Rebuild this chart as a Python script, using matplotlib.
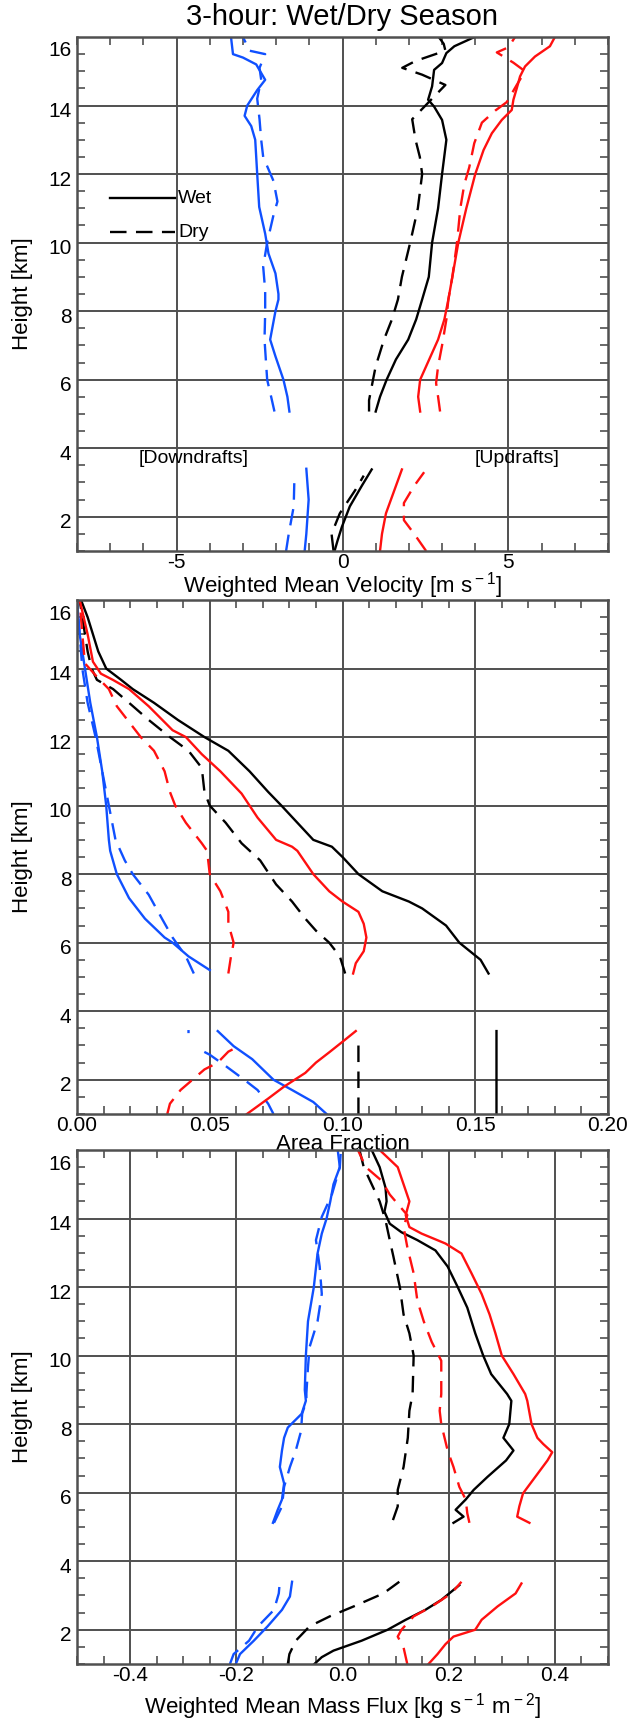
import numpy as np
import matplotlib
matplotlib.use("Agg")
import matplotlib.pyplot as plt
from matplotlib.ticker import MultipleLocator, FixedLocator
from matplotlib.transforms import ScaledTranslation

plt.rcParams['font.family'] = ['Liberation Sans', 'DejaVu Sans']
plt.rcParams['mathtext.fontset'] = 'custom'
plt.rcParams['mathtext.rm'] = 'Liberation Sans'
plt.rcParams['mathtext.default'] = 'regular'

BLUE = '#1050ff'
RED = '#ff1010'
BLACK = '#000000'

# ---- panel 1: weighted mean velocity (m/s) ----
vel_z_blue_wet = [1.0, 1.5, 2.5, 3.4, None, 5.07, 5.5, 6.0, 6.68, 7.17, 8.0, 8.34, 8.5, 9.1, 9.68, 10.26, 11.04, 12.0,
                  13.0, 13.4, 13.7, 14.0, 14.45, 14.75, 15.2, 15.4, 15.5, 16.0]
vel_blue_wet = [-1.14, -1.09, -1.02, -1.09, None, -1.6, -1.66, -1.78, -2.02, -2.18, -2.02, -1.93, -1.93, -2.02, -2.23,
                -2.33, -2.51, -2.57, -2.63, -2.75, -2.95, -2.87, -2.57, -2.33, -2.6, -3.0, -3.3, -3.36]
vel_z_blue_dry = [1.0, 1.5, 2.3, 3.1, None, 5.07, 5.5, 6.0, 7.17, 7.95, 8.6, 9.3, 10.0, 10.8, 11.2, 11.8, 12.5, 13.0,
                  13.6, 14.2, 14.75, 15.1, 15.5, 15.6, 16.0]
vel_blue_dry = [-1.7, -1.62, -1.47, -1.45, None, -2.05, -2.15, -2.27, -2.35, -2.33, -2.33, -2.39, -2.27, -2.08, -1.96,
                -2.08, -2.39, -2.45, -2.5, -2.57, -2.45, -2.5, -2.33, -2.8, -3.0]
vel_z_black_wet = [1.0, 1.3, 1.7, 2.3, 2.9, 3.38, None, 5.07, 5.5, 6.0, 6.59, 7.17, 7.76, 8.34, 9.0, 10.0, 11.0, 12.0,
                   13.0, 13.58, 13.97, 14.17, 14.56, 15.04, 15.24, 15.53, 15.73, 16.0]
vel_black_wet = [-0.24, -0.15, -0.02, 0.22, 0.58, 0.88, None, 1.0, 1.13, 1.33, 1.61, 1.98, 2.22, 2.4, 2.6, 2.7, 2.88,
                 3.0, 3.13, 3.0, 2.76, 2.58, 2.7, 2.76, 3.0, 3.13, 3.37, 3.98]
vel_z_black_dry = [1.0, 1.5, 2.1, 2.8, 3.2, None, 5.07, 5.4, 6.0, 6.39, 7.17, 7.76, 8.34, 9.0, 10.0, 11.0, 12.0, 12.5,
                   13.0, 13.6, 14.0, 14.3, 14.6, 14.9, 15.1, 15.3, 15.6, 15.8, 16.0]
vel_black_dry = [-0.27, -0.33, -0.08, 0.4, 0.64, None, 0.8, 0.8, 0.92, 1.0, 1.25, 1.49, 1.67, 1.79, 2.04, 2.27, 2.4,
                 2.33, 2.2, 2.1, 2.5, 2.8, 3.1, 2.4, 1.8, 2.2, 3.1, 3.05, 2.9]
vel_z_red_wet = [1.0, 1.5, 2.1, 2.9, 3.38, None, 5.07, 5.5, 6.0, 6.39, 7.17, 7.76, 8.34, 9.0, 10.0, 11.0, 12.0, 12.7,
                 13.19, 13.58, 13.87, 14.17, 14.5, 14.85, 15.14, 15.43, 15.73, 16.0]
vel_red_wet = [1.13, 1.19, 1.31, 1.61, 1.79, None, 2.34, 2.28, 2.34, 2.52, 2.88, 3.07, 3.19, 3.31, 3.49, 3.73, 4.0,
               4.25, 4.5, 4.8, 5.1, 5.15, 5.25, 5.35, 5.5, 5.8, 6.25, 6.4]
vel_z_red_dry = [1.0, 1.5, 1.9, 2.4, 2.9, 3.3, None, 5.07, 5.5, 5.9, 6.39, 7.0, 7.76, 8.34, 9.0, 10.0, 11.0, 11.7,
                 12.2, 12.9, 13.5, 13.85, 14.1, 14.6, 15.0, 15.25, 15.4, 15.55, 15.7, 16.0]
vel_red_dry = [2.52, 2.16, 1.85, 1.85, 2.16, 2.46, None, 2.94, 2.88, 2.82, 2.88, 3.0, 3.13, 3.19, 3.31, 3.45, 3.55,
               3.67, 3.82, 3.97, 4.2, 4.6, 4.95, 5.25, 5.5, 5.15, 4.9, 4.65, 5.0, 5.2]

# ---- panel 2: area fraction ----
af_z_blue_wet = [1.0, 1.35, 1.7, 2.0, 2.3, 2.6, 2.98, 3.42, None, 5.2, 5.6, 6.0, 6.15, 6.7, 7.3, 8.0, 8.68, 9.0, 10.0,
                 11.0, 12.0, 13.0, 14.0, 15.0, 16.0]
af_blue_wet = [0.094, 0.089, 0.081, 0.074, 0.070, 0.066, 0.059, 0.053, None, 0.05, 0.042, 0.036, 0.033, 0.0256,
               0.0196, 0.015, 0.0125, 0.012, 0.011, 0.0095, 0.0075, 0.005, 0.003, 0.001, 0.0]
af_z_blue_dry = [1.0, 1.3, 1.7, 2.0, 2.4, 2.73, 2.93, None, 3.36, 3.45, None, 5.1, 5.6, 6.15, 6.7, 7.4, 8.0, 8.4, 9.0,
                 10.0, 11.0, 12.0, 13.0, 14.0, 15.0, 16.0]
af_blue_dry = [0.074, 0.072, 0.068, 0.063, 0.056, 0.05, 0.045, None, 0.042, 0.042, None, 0.044, 0.041, 0.036, 0.032,
               0.027, 0.021, 0.018, 0.0145, 0.012, 0.0095, 0.007, 0.004, 0.002, 0.001, 0.0]
af_z_black_wet = [1.0, 3.42, None, 5.1, 5.5, 6.0, 6.5, 7.0, 7.2, 7.5, 8.0, 8.5, 8.8, 9.0, 9.5, 10.0, 10.4, 11.0, 11.6,
                  12.0, 12.5, 13.0, 13.4, 13.67, 14.0, 14.5, 15.0, 15.5, 16.0]
af_black_wet = [0.158, 0.158, None, 0.155, 0.152, 0.144, 0.139, 0.13, 0.125, 0.115, 0.106, 0.1, 0.096, 0.089, 0.083,
                0.077, 0.072, 0.065, 0.057, 0.048, 0.038, 0.029, 0.021, 0.0166, 0.011, 0.008, 0.006, 0.004, 0.0015]
af_z_black_dry = [1.0, 3.25, None, 5.1, 5.6, 6.0, 6.35, 6.7, 7.2, 7.7, 8.4, 8.9, 9.5, 10.0, 10.4, 11.1, 11.6, 12.0,
                  12.5, 13.0, 13.4, 13.67, 14.0, 14.5, 15.0, 16.0]
af_black_dry = [0.106, 0.106, None, 0.101, 0.099, 0.095, 0.09, 0.086, 0.081, 0.075, 0.069, 0.062, 0.056, 0.05, 0.048,
                0.047, 0.042, 0.035, 0.027, 0.0196, 0.0136, 0.0075, 0.0055, 0.004, 0.003, 0.001]
af_z_red_wet = [1.0, 1.45, 1.8, 2.2, 2.5, 2.8, 3.17, 3.42, None, 5.1, 5.4, 5.75, 6.15, 6.55, 6.9, 7.2, 7.5, 8.0, 8.68,
                8.8, 9.0, 9.65, 10.35, 11.0, 11.5, 12.0, 12.2, 12.9, 13.4, 13.67, 13.85, 14.2, 15.0, 16.0]
af_red_wet = [0.064, 0.072, 0.078, 0.086, 0.09, 0.095, 0.101, 0.105, None, 0.104, 0.105, 0.108, 0.109, 0.108, 0.106,
              0.1, 0.095, 0.089, 0.083, 0.081, 0.075, 0.068, 0.062, 0.054, 0.047, 0.041, 0.036, 0.027, 0.0196, 0.0135,
              0.009, 0.006, 0.004, 0.001]
af_z_red_dry = [1.0, 1.3, 1.7, 1.9, 2.3, 2.5, 2.82, 2.98, None, 5.1, 5.6, 6.0, 6.55, 6.9, 7.5, 8.0, 8.68, 8.9, 9.5,
                10.0, 10.4, 11.0, 11.6, 12.0, 12.4, 12.9, 13.4, 13.76, 14.15, 15.0, 16.0]
af_red_dry = [0.034, 0.035, 0.039, 0.042, 0.048, 0.053, 0.057, 0.061, None, 0.057, 0.058, 0.059, 0.057, 0.057, 0.054,
              0.05, 0.049, 0.047, 0.041, 0.037, 0.035, 0.033, 0.029, 0.024, 0.02, 0.015, 0.012, 0.0075, 0.003, 0.002,
              0.001]

# ---- panel 3: weighted mean mass flux ----
mf_z_blue_wet = [1.0, 1.29, 1.68, 2.1, 2.58, 2.97, 3.4, None, 5.12, 5.5, 5.8, 6.27, 6.75, 7.23, 7.6, 7.9, 8.3, 8.68,
                 9.0, 10.0, 11.0, 12.0, 12.98, 13.56, 14.0, 14.5, 15.0, 15.5, 16.0]
mf_blue_wet = [-0.201, -0.193, -0.167, -0.141, -0.114, -0.099, -0.095, None, -0.131, -0.122, -0.114, -0.11, -0.118,
               -0.114, -0.11, -0.103, -0.077, -0.069, -0.071, -0.069, -0.065, -0.054, -0.047, -0.039, -0.03, -0.023,
               -0.017, -0.005, -0.009]
mf_z_blue_dry = [1.0, 1.29, 1.68, 2.1, 2.58, 3.06, 3.4, None, 5.12, 5.6, 6.17, 6.75, 7.23, 7.8, 8.3, 8.68, 8.9, 9.66,
                 10.25, 11.0, 11.8, 12.6, 13.37, 14.05, 14.7, 15.5, 16.0]
mf_blue_dry = [-0.212, -0.205, -0.176, -0.159, -0.129, -0.12, -0.118, None, -0.129, -0.114, -0.11, -0.099, -0.088,
               -0.078, -0.076, -0.068, -0.068, -0.065, -0.062, -0.047, -0.039, -0.043, -0.05, -0.039, -0.02, -0.005,
               -0.003]
mf_z_black_wet = [1.0, 1.2, 1.39, 1.68, 2.0, 2.29, 2.58, 2.87, 3.3, None, 5.12, 5.3, 5.5, 5.8, 6.08, 6.46, 6.94, 7.23,
                  7.6, 8.0, 8.68, 8.88, 9.46, 10.0, 10.65, 11.4, 12.0, 12.6, 13.07, 13.37, 13.6, 13.85, 14.2, 14.5,
                  14.9, 15.5, 16.0]
mf_black_wet = [-0.053, -0.039, -0.017, 0.036, 0.085, 0.119, 0.156, 0.186, 0.22, None, 0.209, 0.228, 0.213, 0.232,
                0.247, 0.273, 0.308, 0.322, 0.303, 0.314, 0.318, 0.31, 0.28, 0.265, 0.25, 0.235, 0.217, 0.198, 0.175,
                0.141, 0.111, 0.089, 0.079, 0.083, 0.081, 0.07, 0.055]
mf_z_black_dry = [1.0, 1.29, 1.68, 2.1, 2.39, 2.68, 3.06, 3.4, None, 5.2, 5.6, 6.08, 6.75, 7.6, 8.39, 8.88, 10.0,
                  10.65, 11.2, 12.0, 12.88, 13.37, 13.95, 14.5, 15.0, 15.5, 16.0]
mf_black_dry = [-0.103, -0.1, -0.088, -0.062, -0.024, 0.021, 0.077, 0.107, None, 0.095, 0.104, 0.104, 0.115, 0.123,
                0.126, 0.132, 0.134, 0.126, 0.115, 0.108, 0.096, 0.089, 0.081, 0.07, 0.055, 0.04, 0.032]
mf_z_red_wet = [1.0, 1.29, 1.58, 1.8, 2.0, 2.29, 2.68, 3.06, 3.35, None, 5.12, 5.3, 5.6, 5.98, 6.46, 6.94, 7.18, 7.42,
                7.6, 8.0, 8.68, 8.88, 9.46, 10.0, 10.65, 11.2, 11.8, 12.4, 12.98, 13.27, 13.56, 13.75, 14.1, 14.5, 15.0,
                15.5, 16.0]
mf_red_wet = [0.162, 0.179, 0.194, 0.209, 0.25, 0.262, 0.292, 0.326, 0.337, None, 0.352, 0.329, 0.333, 0.34, 0.363,
              0.386, 0.395, 0.378, 0.367, 0.356, 0.348, 0.344, 0.322, 0.3, 0.288, 0.277, 0.262, 0.243, 0.224, 0.194,
              0.149, 0.126, 0.119, 0.126, 0.115, 0.104, 0.07]
mf_z_red_dry = [1.0, 1.48, 1.8, 2.0, 2.39, 2.68, 3.06, 3.4, None, 5.12, 5.4, 5.8, 6.17, 6.75, 7.23, 8.0, 8.39, 8.88,
                9.85, 10.4, 11.0, 11.6, 12.4, 13.17, 13.75, 14.1, 14.3, 14.7, 15.1, 15.5, 16.0]
mf_red_dry = [0.122, 0.115, 0.104, 0.111, 0.134, 0.168, 0.205, 0.224, None, 0.239, 0.235, 0.232, 0.22, 0.209, 0.198,
              0.186, 0.183, 0.186, 0.186, 0.168, 0.153, 0.141, 0.134, 0.122, 0.115, 0.122, 0.111, 0.089, 0.074, 0.044,
              0.029]

panels = [
    dict(xlim=(-8, 8), major=[-5, 0, 5], labels=['-5', '0', '5'], minor=1,
         xlabel=r'Weighted Mean Velocity [m s$^{\rm -1}$]', xlab_off=35,
         series=[(vel_z_blue_wet, vel_blue_wet, BLUE, '-'), (vel_z_blue_dry, vel_blue_dry, BLUE, '--'),
                 (vel_z_black_wet, vel_black_wet, BLACK, '-'), (vel_z_black_dry, vel_black_dry, BLACK, '--'),
                 (vel_z_red_wet, vel_red_wet, RED, '-'), (vel_z_red_dry, vel_red_dry, RED, '--')]),
    dict(xlim=(0, 0.2), major=[0, 0.05, 0.10, 0.15, 0.20], labels=['0.00', '0.05', '0.10', '0.15', '0.20'],
         minor=0.01, xlabel='Area Fraction', xlab_off=31,
         series=[(af_z_blue_wet, af_blue_wet, BLUE, '-'), (af_z_blue_dry, af_blue_dry, BLUE, '--'),
                 (af_z_black_wet, af_black_wet, BLACK, '-'), (af_z_black_dry, af_black_dry, BLACK, '--'),
                 (af_z_red_wet, af_red_wet, RED, '-'), (af_z_red_dry, af_red_dry, RED, '--')]),
    dict(xlim=(-0.5, 0.5), major=[-0.4, -0.2, 0.0, 0.2, 0.4], labels=['-0.4', '-0.2', '0.0', '0.2', '0.4'],
         minor=0.05, xlabel=r'Weighted Mean Mass Flux [kg s$^{\rm -1}$ m$^{\rm -2}$]', xlab_off=43,
         series=[(mf_z_blue_wet, mf_blue_wet, BLUE, '-'), (mf_z_blue_dry, mf_blue_dry, BLUE, '--'),
                 (mf_z_black_wet, mf_black_wet, BLACK, '-'), (mf_z_black_dry, mf_black_dry, BLACK, '--'),
                 (mf_z_red_wet, mf_red_wet, RED, '-'), (mf_z_red_dry, mf_red_dry, RED, '--')]),
]

fig = plt.figure(figsize=(6.28, 17.2), dpi=100)
W, H = 628.0, 1720.0
tops = [37, 600, 1150]
ph = 514
grey = '#505050'
LW = 1.7
DASH = (7, 4)

for p, top in zip(panels, tops):
    ax = fig.add_axes([77 / W, 1 - (top + ph) / H, 531 / W, ph / H])
    for z, v, c, ls in p['series']:
        z = np.array(z, dtype=float)
        v = np.array(v, dtype=float)
        if ls == '--':
            ax.plot(v, z, color=c, lw=LW, ls='--', dashes=DASH)
        else:
            ax.plot(v, z, color=c, lw=LW)
    ax.set_xlim(*p['xlim'])
    ax.set_ylim(1, 16)
    ax.xaxis.set_major_locator(FixedLocator(p['major']))
    ax.set_xticklabels(p['labels'])
    ax.xaxis.set_minor_locator(MultipleLocator(p['minor']))
    ax.yaxis.set_major_locator(FixedLocator([2, 4, 6, 8, 10, 12, 14, 16]))
    ax.yaxis.set_minor_locator(MultipleLocator(0.5))
    ax.grid(True, which='major', color=grey, lw=1.4)
    ax.tick_params(which='both', direction='in', top=True, right=True, labelsize=15, color=grey)
    ax.tick_params(which='major', length=0, pad=1.5)
    ax.tick_params(which='minor', length=6, width=1.2)
    ax.tick_params(axis='y', which='major', pad=4)
    for s in ax.spines.values():
        s.set_color(grey)
        s.set_linewidth(1.8)
    ax.text(0.5, -p['xlab_off'] / ph, p['xlabel'], transform=ax.transAxes, ha='center', va='center', fontsize=16)
    ax.set_ylabel('Height [km]', fontsize=16)
    ax.yaxis.set_label_coords(-44 / 531, 0.5)
    for lab in ax.get_yticklabels():
        dy = -12 if lab.get_text() == '16' else -4
        lab.set_transform(lab.get_transform() + ScaledTranslation(0, dy / 100, fig.dpi_scale_trans))
    p['ax'] = ax

ax1 = panels[0]['ax']
ax1.plot([-7.0, -5.05], [11.3, 11.3], color=BLACK, lw=LW)
ax1.plot([-7.0, -5.05], [10.3, 10.3], color=BLACK, lw=LW, ls='--', dashes=DASH)
ax1.text(-4.95, 11.3, 'Wet', fontsize=14, va='center', ha='left')
ax1.text(-4.95, 10.3, 'Dry', fontsize=14, va='center', ha='left')
ax1.text(-4.5, 3.7, '[Downdrafts]', fontsize=14, va='center', ha='center')
ax1.text(5.25, 3.7, '[Updrafts]', fontsize=14, va='center', ha='center')

fig.text((77 + 531 / 2) / W, 1 - 17 / H, '3-hour: Wet/Dry Season', fontsize=21, ha='center', va='center')

fig.savefig('out.png', dpi=100)
